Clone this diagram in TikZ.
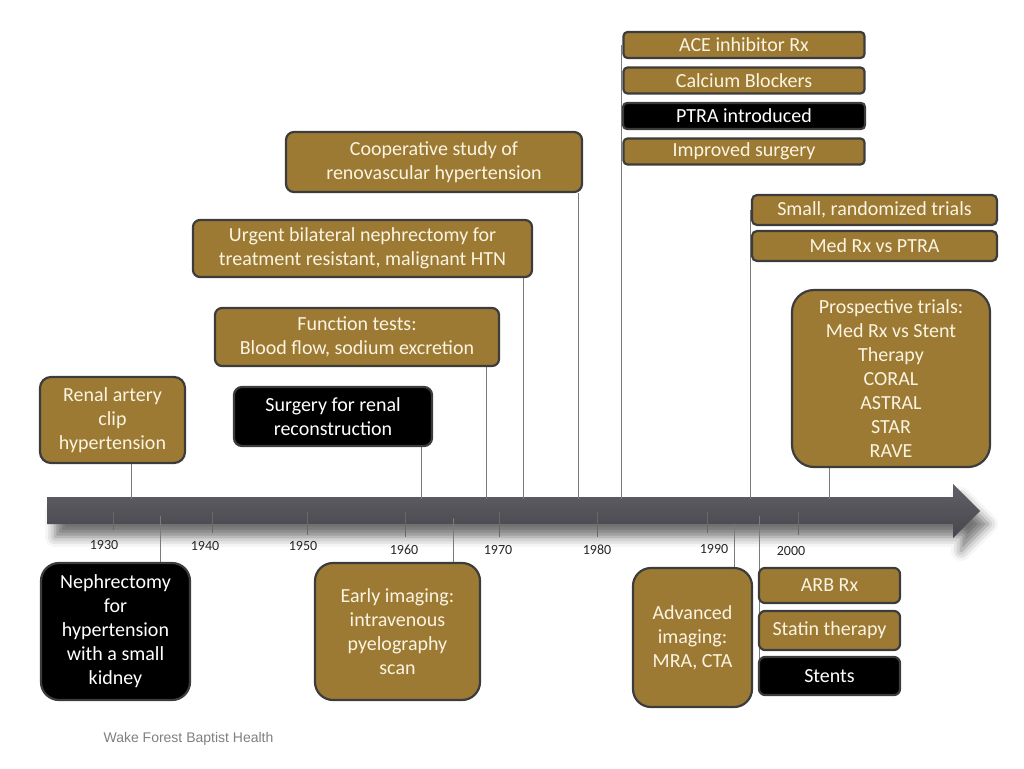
\documentclass[tikz,border=0pt]{standalone}
\usepackage{fontspec}
\setmainfont{Carlito}
\newfontfamily\creditfont{Liberation Sans}
\usetikzlibrary{backgrounds,shadows.blur}
\definecolor{eventbrown}{HTML}{9C7A33}
\definecolor{eventtext}{HTML}{FBF4E2}
\definecolor{boxedge}{HTML}{3C3C3C}
\definecolor{linkgray}{HTML}{7A7A7A}
\definecolor{barlight}{HTML}{606066}
\definecolor{bardark}{HTML}{333338}
\definecolor{barmid}{HTML}{46464C}
\definecolor{creditgray}{HTML}{7F7F7F}
\tikzset{
  box/.style={draw=boxedge,line width=2.2pt,align=center,inner sep=0pt,font=\fontsize{20}{24}\selectfont},
  eventbox/.style={box,fill=eventbrown,text=eventtext},
  keybox/.style={box,fill=black,text=white},
  link/.style={draw=linkgray,line width=0.9pt},
  yeartick/.style={draw=linkgray!85!black,line width=1pt},
  yearlabel/.style={font=\fontsize{14}{16}\selectfont,text=black!85}
}
\begin{document}
\begin{tikzpicture}[x=1pt,y=-1pt]
  \useasboundingbox (0,0) rectangle (1024,768);
  \node[eventbox,minimum width=241pt,minimum height=26pt,rounded corners=4pt] (ace) at (744,45) {ACE inhibitor Rx};
  \node[eventbox,minimum width=241pt,minimum height=26pt,rounded corners=4pt] (calcium) at (744,80.5) {Calcium Blockers};
  \node[keybox,minimum width=242pt,minimum height=26pt,rounded corners=4pt] (ptra) at (744,116) {PTRA introduced};
  \node[eventbox,minimum width=241pt,minimum height=26pt,rounded corners=4pt] (improved) at (744,151.5) {Improved surgery};
  \node[eventbox,minimum width=296pt,minimum height=60pt,rounded corners=8pt] (coop) at (434,162) {Cooperative study of\\renovascular hypertension};
  \node[eventbox,minimum width=339pt,minimum height=57pt,rounded corners=7pt] (urgent) at (362.5,248.5) {Urgent bilateral nephrectomy for\\treatment resistant, malignant HTN};
  \node[eventbox,minimum width=284pt,minimum height=58pt,rounded corners=7pt] (func) at (357,337) {Function tests:\\Blood flow, sodium excretion};
  \node[keybox,minimum width=198pt,minimum height=59pt,rounded corners=8pt] (recon) at (333,416.5) {Surgery for renal\\reconstruction};
  \node[eventbox,minimum width=145pt,minimum height=86pt,rounded corners=11pt] (clip) at (112.5,420) {Renal artery\\clip\\hypertension};
  \node[eventbox,minimum width=245pt,minimum height=30pt,rounded corners=5pt] (smalltrials) at (874.5,210) {Small, randomized trials};
  \node[eventbox,minimum width=245pt,minimum height=30pt,rounded corners=5pt] (medrx) at (874.5,246) {Med Rx vs PTRA};
  \node[eventbox,minimum width=198pt,minimum height=177pt,rounded corners=22pt] (prosp) at (891,378.5) {Prospective trials:\\Med Rx vs Stent\\Therapy\\CORAL\\ASTRAL\\STAR\\RAVE};
  \node[keybox,minimum width=149pt,minimum height=137pt,rounded corners=18pt] (neph) at (115.5,631.5) {Nephrectomy\\for\\hypertension\\with a small\\kidney};
  \node[eventbox,minimum width=165pt,minimum height=137pt,rounded corners=18pt] (early) at (397.5,631.5) {Early imaging:\\intravenous\\pyelography\\scan};
  \node[eventbox,minimum width=119pt,minimum height=139pt,rounded corners=18pt] (adv) at (692.5,637.5) {Advanced\\imaging:\\MRA, CTA};
  \node[eventbox,minimum width=141pt,minimum height=35pt,rounded corners=6pt] (arb) at (829.5,585.5) {ARB Rx};
  \node[eventbox,minimum width=141pt,minimum height=39pt,rounded corners=6pt] (statin) at (829.5,630.5) {Statin therapy};
  \node[keybox,minimum width=141pt,minimum height=38pt,rounded corners=6pt] (stents) at (829.5,676) {Stents};
  \node[font=\creditfont\fontsize{14}{16}\selectfont,text=creditgray] (credit) at (188.5,739) {Wake Forest Baptist Health};
  \coordinate (clipmark) at (131,499);
  \coordinate (reconmark) at (421,499);
  \coordinate (funcmark) at (486,499);
  \coordinate (urgentmark) at (523,499);
  \coordinate (coopmark) at (578,499);
  \coordinate (acemark) at (621,499);
  \coordinate (trialmark) at (750,499);
  \coordinate (prospmark) at (829,499);
  \coordinate (nephmark) at (160,516);
  \coordinate (earlymark) at (453,518);
  \coordinate (advmark) at (734,524);
  \coordinate (arbmark) at (759,516);
  \begin{scope}[on background layer]
    \shade[top color=barlight,middle color=bardark,bottom color=barmid,
      blur shadow={shadow xshift=8pt,shadow yshift=-13pt,shadow opacity=55,shadow blur radius=10pt}]
      (47,497) -- (953,497) -- (953,484) -- (980,511) -- (953,538) -- (953,524) -- (47,524) -- cycle;
    \draw[link] (clip.south -| clipmark) -- (clipmark);
    \draw[link] (recon.south -| reconmark) -- (reconmark);
    \draw[link] (func.south -| funcmark) -- (funcmark);
    \draw[link] (urgent.south -| urgentmark) -- (urgentmark);
    \draw[link] (coop.south -| coopmark) -- (coopmark);
    \draw[link] (ace.west -| acemark) -- (acemark);
    \draw[link] (smalltrials.west -| trialmark) -- (trialmark);
    \draw[link] (prosp.south -| prospmark) -- (prospmark);
    \draw[link] (nephmark) -- (nephmark |- neph.north);
    \draw[link] (earlymark) -- (earlymark |- early.north);
    \draw[link] (advmark) -- (advmark |- adv.north);
    \draw[link] (arbmark) -- (arbmark |- stents.west);
    \foreach \yr/\tx/\tb/\lx/\ly in {1930/113/530/104/545,1940/212/533/205/546,1950/307/535/303/546,1960/405/537/404/550,1970/499/537/498/550,1980/597/537/597/550,1990/707/533/714/549,2000/798/535/791/551}{
      \draw[yeartick] (\tx,512) -- (\tx,\tb);
      \node[yearlabel] (yr\yr) at (\lx,\ly) {\yr};
    }
  \end{scope}
\end{tikzpicture}
\end{document}
